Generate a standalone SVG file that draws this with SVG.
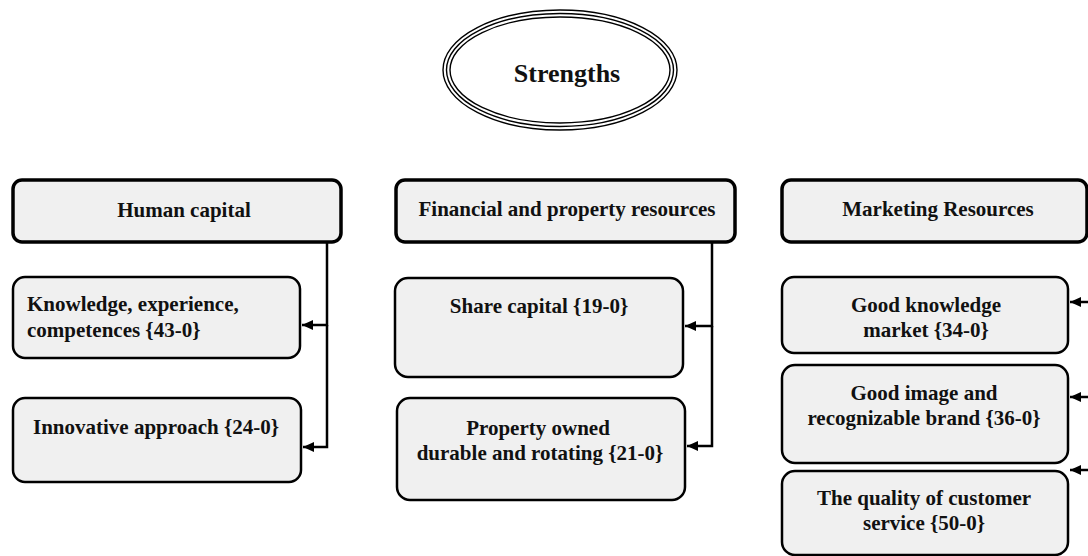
<svg xmlns="http://www.w3.org/2000/svg" width="1088" height="556" viewBox="0 0 1088 556">
  <style>
    text { font-family: "Liberation Serif", "Times New Roman", serif; font-weight: bold; fill: #111; }
    .t { font-size: 21px; }
    .mid { text-anchor: middle; }
    .head { fill: #f0f0f0; stroke: #000; stroke-width: 3.5; }
    .item { fill: #f0f0f0; stroke: #000; stroke-width: 2.5; }
    .ring { fill: none; stroke: #000; stroke-width: 1.4; }
    .link { fill: none; stroke: #000; stroke-width: 2.5; marker-end: url(#arrow); }
  </style>
  <defs>
    <marker id="arrow" markerUnits="userSpaceOnUse" markerWidth="12" markerHeight="10" refX="11" refY="5" orient="auto">
      <path d="M0,0 L11,5 L0,10 Z" fill="#000"/>
    </marker>
  </defs>
  <rect width="1088" height="556" fill="#fff"/>

  <!-- Title -->
  <g id="strengths">
    <ellipse class="ring" cx="560" cy="70" rx="117" ry="60"/>
    <ellipse class="ring" cx="560" cy="70" rx="113.5" ry="56.5"/>
    <ellipse class="ring" cx="560" cy="70" rx="110" ry="53"/>
    <text class="mid" x="567" y="82" font-size="26">Strengths</text>
  </g>

  <!-- Category headers -->
  <g id="human-capital">
    <rect class="head" x="13" y="180" width="328" height="62" rx="9"/>
    <text class="t mid" x="184" y="217">Human capital</text>
  </g>
  <g id="financial">
    <rect class="head" x="396" y="180" width="339" height="62" rx="9"/>
    <text class="t mid" x="567" y="216">Financial and property resources</text>
  </g>
  <g id="marketing">
    <rect class="head" x="782" y="180" width="305" height="62" rx="9"/>
    <text class="t mid" x="938" y="216">Marketing Resources</text>
  </g>

  <!-- Human capital items -->
  <g id="knowledge">
    <rect class="item" x="13" y="277" width="287" height="81" rx="12"/>
    <text class="t" x="27" y="311">Knowledge, experience,</text>
    <text class="t" x="27" y="337">competences {43-0}</text>
  </g>
  <g id="innovative">
    <rect class="item" x="13" y="398" width="288" height="84" rx="12"/>
    <text class="t mid" x="156" y="434">Innovative approach {24-0}</text>
  </g>

  <!-- Financial items -->
  <g id="share-capital">
    <rect class="item" x="395" y="278" width="288" height="99" rx="13"/>
    <text class="t mid" x="539" y="313">Share capital {19-0}</text>
  </g>
  <g id="property">
    <rect class="item" x="397" y="398" width="288" height="102" rx="13"/>
    <text class="t mid" x="538" y="435">Property owned</text>
    <text class="t mid" x="540" y="460">durable and rotating {21-0}</text>
  </g>

  <!-- Marketing items -->
  <g id="market-knowledge">
    <rect class="item" x="782" y="277" width="286" height="76" rx="12"/>
    <text class="t mid" x="926" y="312">Good knowledge</text>
    <text class="t mid" x="926" y="337">market {34-0}</text>
  </g>
  <g id="brand">
    <rect class="item" x="782" y="365" width="286" height="98" rx="13"/>
    <text class="t mid" x="924" y="400">Good image and</text>
    <text class="t mid" x="924" y="425">recognizable brand {36-0}</text>
  </g>
  <g id="service">
    <rect class="item" x="782" y="471" width="286" height="84" rx="13"/>
    <text class="t mid" x="924" y="505">The quality of customer</text>
    <text class="t mid" x="924" y="530">service {50-0}</text>
  </g>

  <!-- Connectors -->
  <g id="connectors">
    <path class="link" d="M327,242 V325 H302"/>
    <path class="link" d="M327,325 V447 H303"/>
    <path class="link" d="M712,242 V326 H685"/>
    <path class="link" d="M712,326 V446 H687"/>
    <path class="link" d="M1090,302 H1070"/>
    <path class="link" d="M1090,397 H1070"/>
    <path class="link" d="M1090,470 H1070"/>
  </g>
</svg>
